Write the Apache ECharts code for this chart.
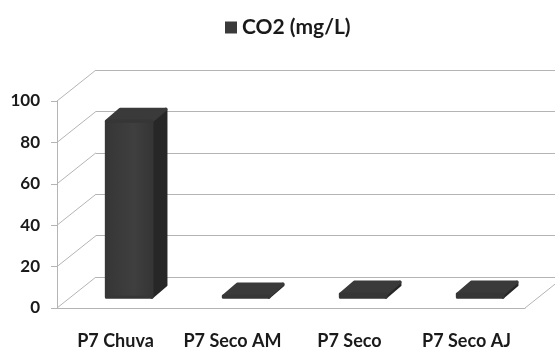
<!DOCTYPE html>
<html>
<head>
<meta charset="utf-8">
<script src="https://cdn.jsdelivr.net/npm/echarts@6/dist/echarts.min.js"></script>
<style>
  html, body { margin: 0; padding: 0; background: #fff; }
  #chart { width: 555px; height: 350px; }
</style>
</head>
<body>
<div id="chart"></div>
<script>
// Chart data
const categories = ['P7 Chuva', 'P7 Seco AM', 'P7 Seco', 'P7 Seco AJ'];
const co2Values = [85, 0.5, 1.5, 1.5];
const seriesName = 'CO2 (mg/L)';
const yTicks = [0, 20, 40, 60, 80, 100];

// Perspective of the box: back wall offset and bar placement in depth
const WALL_DX = 39, WALL_DY = -31;
const BAR_DEPTH_FRAC = 0.35;
const BAR_DX = 14, BAR_DY = -12;
const BAR_WIDTH_FRAC = 0.39;

const gridColor = '#b4b4b4';
const textColor = '#1a1a1a';

const chart = echarts.init(document.getElementById('chart'));

function renderBar(params, api) {
  const i = api.value(0), v = api.value(1);
  const base = api.coord([i, 0]);
  const top = api.coord([i, v]);
  const w = api.size([1, 0])[0] * BAR_WIDTH_FRAC;
  const x = base[0] + BAR_DEPTH_FRAC * WALL_DX - w / 2;
  const by = base[1] + BAR_DEPTH_FRAC * WALL_DY;
  const ty = top[1] + BAR_DEPTH_FRAC * WALL_DY;
  const round = { lineJoin: 'round', lineWidth: 3 };
  return {
    type: 'group',
    children: [
      {
        type: 'polygon',
        shape: { points: [[x + w, ty], [x + w + BAR_DX, ty + BAR_DY], [x + w + BAR_DX, by + BAR_DY], [x + w, by]] },
        style: Object.assign({ fill: '#272727', stroke: '#272727' }, round)
      },
      {
        type: 'polygon',
        shape: { points: [[x, ty], [x + BAR_DX, ty + BAR_DY], [x + w + BAR_DX, ty + BAR_DY], [x + w, ty]] },
        style: Object.assign({ fill: '#3a3a3a', stroke: '#3a3a3a' }, round)
      },
      {
        type: 'polygon',
        shape: { points: [[x, ty], [x + w, ty], [x + w, by], [x, by]] },
        style: Object.assign({
          fill: new echarts.graphic.LinearGradient(0, 0, 1, 0, [
            { offset: 0, color: '#363636' },
            { offset: 0.6, color: '#3f3f3f' },
            { offset: 1, color: '#353535' }
          ]),
          stroke: '#363636'
        }, round)
      }
    ]
  };
}

// Side wall and floor edges running from the front frame back to the rear wall
function renderEdges(params, api) {
  const cs = params.coordSys;
  const kind = api.value(0);
  const v = api.value(1);
  const y = api.coord([0, v])[1];
  const x0 = kind === 0 ? cs.x : cs.x + cs.width;
  return {
    type: 'line',
    shape: { x1: x0, y1: y, x2: x0 + WALL_DX, y2: y + WALL_DY },
    style: { stroke: gridColor, lineWidth: 1 }
  };
}

const edgeData = yTicks.map(t => [0, t]).concat([[1, 0]]);

chart.setOption({
  animation: false,
  legend: {
    data: [seriesName],
    top: 12,
    left: 220,
    icon: 'rect',
    itemWidth: 12,
    itemHeight: 12,
    itemGap: 5,
    textStyle: { fontFamily: 'Lato', fontWeight: 'bold', fontSize: 21, color: textColor }
  },
  grid: [
    { left: 57, top: 101, width: 468, height: 207 },
    { left: 57 + WALL_DX, top: 101 + WALL_DY, width: 468, height: 207 }
  ],
  xAxis: [
    {
      gridIndex: 0, type: 'category', data: categories,
      axisLine: { lineStyle: { color: gridColor } },
      axisTick: { lineStyle: { color: gridColor }, length: 5 },
      axisLabel: { interval: 0, margin: 24, fontFamily: 'Lato', fontWeight: 'bold', fontSize: 18, color: textColor }
    },
    {
      gridIndex: 1, type: 'category', data: categories, show: false
    }
  ],
  yAxis: [
    {
      gridIndex: 0, type: 'value', min: 0, max: 100, interval: 20,
      axisLine: { show: true, lineStyle: { color: gridColor } },
      axisTick: { show: true, length: 6, lineStyle: { color: gridColor } },
      splitLine: { show: false },
      axisLabel: { margin: 17, fontFamily: 'Lato', fontWeight: 'bold', fontSize: 17, color: textColor }
    },
    {
      gridIndex: 1, type: 'value', min: 0, max: 100, interval: 20,
      axisLine: { show: false }, axisTick: { show: false }, axisLabel: { show: false },
      splitLine: { show: true, lineStyle: { color: gridColor, width: 1 } }
    }
  ],
  series: [
    {
      type: 'custom', xAxisIndex: 0, yAxisIndex: 0,
      data: edgeData, renderItem: renderEdges, silent: true, z: 1
    },
    {
      name: seriesName, type: 'custom', xAxisIndex: 0, yAxisIndex: 0,
      itemStyle: { color: '#3a3a3a' },
      data: categories.map((c, i) => [i, co2Values[i]]),
      renderItem: renderBar, z: 3
    }
  ]
});
</script>
</body>
</html>
